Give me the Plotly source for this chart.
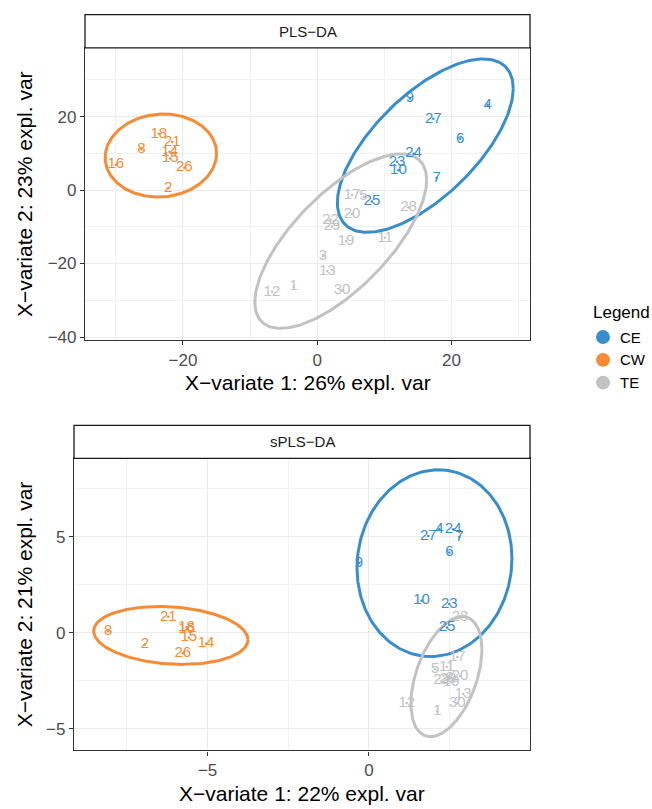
import numpy as np
import plotly.graph_objects as go

# ---------------- data ----------------
groups = ["CE", "CW", "TE"]
group_colors = {"CE": "#388ECC", "CW": "#F68B33", "TE": "#C2C2C2"}

# PLS-DA (top panel)
pls_ce_ids = ["9", "4", "27", "6", "24", "23", "10", "7", "25"]
pls_ce_x = [13.8, 25.4, 17.3, 21.3, 14.35, 11.9, 12.1, 17.8, 8.15]
pls_ce_y = [24.9, 23.2, 19.4, 13.95, 9.9, 7.7, 5.4, 3.3, -3.1]

pls_cw_ids = ["18", "8", "21", "14", "15", "26", "16", "2"]
pls_cw_x = [-23.6, -26.2, -21.6, -22.0, -21.9, -19.8, -30.0, -22.2]
pls_cw_y = [15.3, 11.1, 13.1, 10.4, 8.6, 6.1, 6.9, 0.5]

pls_te_ids = ["17", "5", "28", "20", "22", "29", "19", "11", "3", "13", "1", "12", "30"]
pls_te_x = [5.2, 6.9, 13.6, 5.2, 2.0, 2.2, 4.3, 10.1, 0.85, 1.5, -3.5, -6.75, 3.7]
pls_te_y = [-1.35, -1.8, -4.7, -6.5, -8.1, -9.9, -13.9, -13.0, -18.0, -22.0, -26.3, -27.7, -27.4]

# sPLS-DA (bottom panel)
spls_ce_ids = ["27", "4", "24", "7", "6", "10", "23", "9", "25"]
spls_ce_x = [1.84, 2.18, 2.61, 2.80, 2.49, 1.63, 2.49, -0.31, 2.42]
spls_ce_y = [5.05, 5.40, 5.40, 5.0, 4.19, 1.67, 1.50, 3.64, 0.27]

spls_cw_ids = ["8", "21", "18", "16", "15", "14", "2", "26"]
spls_cw_x = [-8.08, -6.22, -5.65, -5.65, -5.58, -5.05, -6.94, -5.77]
spls_cw_y = [0.08, 0.83, 0.29, 0.17, -0.26, -0.57, -0.61, -1.07]

spls_te_ids = ["28", "17", "5", "11", "20", "22", "29", "19", "3", "13", "30", "12", "1"]
spls_te_x = [2.82, 2.74, 2.05, 2.41, 2.82, 2.25, 2.45, 2.55, 2.5, 2.92, 2.74, 1.17, 2.12]
spls_te_y = [0.81, -1.26, -1.90, -1.78, -2.25, -2.50, -2.45, -2.6, -2.4, -3.19, -3.67, -3.67, -4.09]

# confidence ellipses: centre x, centre y, x half-extent, y half-extent, correlation
pls_ell = {
    "CE": [16.1, 12.1, 13.1, 23.6, 0.66],
    "CW": [-23.3, 9.4, 8.3, 11.3, 0.05],
    "TE": [3.5, -13.9, 12.8, 23.75, 0.70],
}
spls_ell = {
    "CE": [2.03, 3.63, 2.40, 4.87, 0.05],
    "CW": [-6.14, -0.14, 2.39, 1.51, -0.15],
    "TE": [2.40, -2.29, 1.10, 3.13, 0.45],
}

panels = [
    dict(title="PLS−DA", xlab="X−variate 1: 26% expl. var", ylab="X−variate 2: 23% expl. var",
         pts={"CE": (pls_ce_ids, pls_ce_x, pls_ce_y), "CW": (pls_cw_ids, pls_cw_x, pls_cw_y),
              "TE": (pls_te_ids, pls_te_x, pls_te_y)},
         ell=pls_ell, xrange=[-34.6, 31.7], yrange=[-40.9, 38.7], dtick=20, minor=10,
         xdom=[85 / 652, 530 / 652], ypx=[48.3, 343.3], strip=[14.7, 48.3]),
    dict(title="sPLS−DA", xlab="X−variate 1: 22% expl. var", ylab="X−variate 2: 21% expl. var",
         pts={"CE": (spls_ce_ids, spls_ce_x, spls_ce_y), "CW": (spls_cw_ids, spls_cw_x, spls_cw_y),
              "TE": (spls_te_ids, spls_te_x, spls_te_y)},
         ell=spls_ell, xrange=[-9.14, 4.99], yrange=[-6.14, 9.1], dtick=5, minor=2.5,
         xdom=[74 / 652, 530 / 652], ypx=[462.3, 757.0], strip=[429.0, 462.3]),
]

W, H = 652, 809
FONT = "Liberation Sans, Arial, sans-serif"

fig = go.Figure()
t = np.linspace(0, 2 * np.pi, 240)

for i, p in enumerate(panels):
    ax = "" if i == 0 else str(i + 1)
    xa, ya = "x" + ax, "y" + ax
    for g in groups:
        cx, cy, rx, ry, rho = p["ell"][g]
        ex = cx + rx * np.cos(t)
        ey = cy + ry * (rho * np.cos(t) + np.sqrt(1 - rho ** 2) * np.sin(t))
        fig.add_trace(go.Scatter(x=ex, y=ey, mode="lines", xaxis=xa, yaxis=ya,
                                 line=dict(color=group_colors[g], width=3),
                                 showlegend=False, hoverinfo="skip"))
    for g in groups:
        ids, xs, ys = p["pts"][g]
        fig.add_trace(go.Scatter(x=xs, y=ys, mode="markers+text", text=ids, xaxis=xa, yaxis=ya,
                                 textposition="middle center",
                                 marker=dict(color=group_colors[g], size=2.5),
                                 textfont=dict(family=FONT, size=15, color=group_colors[g]),
                                 showlegend=False, hoverinfo="skip"))
    ydom = [1 - p["ypx"][1] / H, 1 - p["ypx"][0] / H]
    axis_common = dict(showline=True, mirror=True, linecolor="#333333", linewidth=1.2,
                       ticks="outside", ticklen=4, tickcolor="#333333", tickwidth=1,
                       showgrid=True, gridcolor="#EBEBEB", gridwidth=1.1, zeroline=False,
                       tickfont=dict(family=FONT, size=17, color="#4D4D4D"),
                       tick0=0, dtick=p["dtick"],
                       minor=dict(dtick=p["minor"], showgrid=True, gridcolor="#F2F2F2",
                                  gridwidth=0.6, ticks=""))
    fig.update_layout(**{
        "xaxis" + ax: dict(domain=p["xdom"], range=p["xrange"], anchor=ya, **axis_common),
        "yaxis" + ax: dict(domain=ydom, range=p["yrange"], anchor=xa, **axis_common),
    })
    # strip
    sy0, sy1 = 1 - p["strip"][1] / H, 1 - p["strip"][0] / H
    fig.add_shape(type="rect", xref="paper", yref="paper", x0=p["xdom"][0], x1=p["xdom"][1],
                  y0=sy0, y1=sy1, line=dict(color="#1A1A1A", width=1.3), fillcolor="white")
    fig.add_annotation(xref="paper", yref="paper", x=(p["xdom"][0] + p["xdom"][1]) / 2,
                       y=(sy0 + sy1) / 2, xanchor="center", yanchor="middle",
                       text=p["title"], showarrow=False,
                       font=dict(family=FONT, size=15, color="#1A1A1A"))
    # axis titles
    fig.add_annotation(xref="paper", yref="paper", x=(p["xdom"][0] + p["xdom"][1]) / 2,
                       y=1 - (p["ypx"][1] + 43) / H, xanchor="center", yanchor="middle",
                       text=p["xlab"], showarrow=False,
                       font=dict(family=FONT, size=21, color="black"))
    fig.add_annotation(xref="paper", yref="paper", x=24 / W,
                       y=1 - (p["ypx"][0] + p["ypx"][1]) / 2 / H, xanchor="center", yanchor="middle",
                       text=p["ylab"], showarrow=False,
                       textangle=-90, font=dict(family=FONT, size=21, color="black"))

# legend (drawn in figure pixel positions)
fig.add_annotation(xref="paper", yref="paper", x=591 / W, y=1 - 315 / H,
                   xanchor="left", yanchor="middle", text="Legend", showarrow=False,
                   font=dict(family=FONT, size=17, color="black"))
for k, g in enumerate(groups):
    cy = 340 + 23 * k
    fig.add_shape(type="circle", xref="paper", yref="paper",
                  x0=(603 - 7) / W, x1=(603 + 7) / W, y0=1 - (cy + 7) / H, y1=1 - (cy - 7) / H,
                  fillcolor=group_colors[g], line=dict(width=0))
    fig.add_annotation(xref="paper", yref="paper", x=618 / W, y=1 - cy / H,
                       xanchor="left", yanchor="middle", text=g, showarrow=False,
                       font=dict(family=FONT, size=15, color="black"))

fig.update_layout(
    width=W, height=H, margin=dict(l=0, r=0, t=0, b=0),
    paper_bgcolor="white", plot_bgcolor="white",
    showlegend=False,
)

fig.write_html("out.html", config={"displayModeBar": False},
               post_script="document.body.style.margin='0';document.body.style.padding='0';")
